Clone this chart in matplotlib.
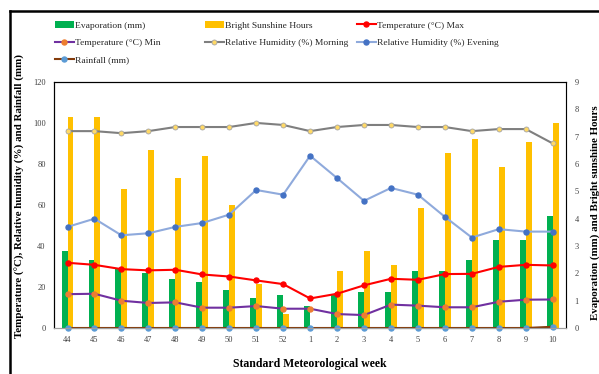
import numpy as np
import matplotlib.pyplot as plt
from matplotlib.lines import Line2D

plt.rcParams["font.family"] = ["Liberation Serif", "DejaVu Serif"]

weeks = ["44", "45", "46", "47", "48", "49", "50", "51", "52",
         "1", "2", "3", "4", "5", "6", "7", "8", "9", "10"]

# right axis (mm / hours)
evaporation = [2.8, 2.5, 2.15, 2.0, 1.8, 1.7, 1.4, 1.1, 1.2,
               0.8, 1.2, 1.3, 1.3, 2.1, 2.1, 2.5, 3.2, 3.2, 4.1]
sunshine = [7.7, 7.7, 5.1, 6.5, 5.5, 6.3, 4.5, 1.6, 0.5,
            0.0, 2.1, 2.8, 2.3, 4.4, 6.4, 6.9, 5.9, 6.8, 7.5]

# left axis (degC / % / mm)
temp_max = [31.8, 30.8, 28.7, 28.1, 28.4, 26.1, 25.1, 23.2, 21.4,
            14.4, 16.7, 20.8, 24.0, 23.5, 26.3, 26.4, 29.8, 30.8, 30.5]
temp_min = [16.5, 16.7, 13.3, 12.2, 12.5, 9.9, 9.9, 10.7, 9.4,
            9.4, 6.8, 6.3, 11.4, 10.9, 10.1, 10.1, 12.8, 13.8, 13.9]
rh_morning = [96, 96, 95, 96, 98, 98, 98, 100, 99,
              96, 98, 99, 99, 98, 98, 96, 97, 97, 90]
rh_evening = [49.3, 53.3, 45.2, 46.2, 49.3, 51.2, 55.3, 67.3, 65.0,
              84.0, 73.1, 62.0, 68.3, 65.0, 54.2, 44.1, 48.2, 47.0, 47.0]
rainfall = [0, 0, 0, 0, 0, 0, 0, 0, 0,
            0, 0, 0, 0, 0, 0, 0, 0, 0, 0.6]

x = np.arange(len(weeks))

fig = plt.figure(figsize=(5.99, 3.74), dpi=100)
ax = fig.add_axes([0.0902, 0.123, 0.855, 0.658])
ax2 = ax.twinx()

bw = 0.22
ax2.bar(x - bw / 2, evaporation, width=bw, color="#00B050", label="Evaporation (mm)")
ax2.bar(x + bw / 2, sunshine, width=bw, color="#FFC000", label="Bright Sunshine Hours")
ax2.set_ylim(0, 9)
ax2.set_yticks(range(0, 10))

# lines go on top of the bars
ax.set_zorder(ax2.get_zorder() + 1)
ax.patch.set_visible(False)

kw = dict(lw=1.5, ms=3.6)
ax.plot(x, temp_max, color="#FF0000", marker="o", mfc="#FF0000", mec="#FF0000",
        label="Temperature (°C) Max", **kw)
ax.plot(x, temp_min, color="#7030A0", marker="o", mfc="#ED7D31", mec="#ED7D31",
        label="Temperature (°C) Min", **kw)
ax.plot(x, rh_morning, color="#7F7F7F", marker="o", mfc="#FFD966", mec="#A5A5A5",
        mew=0.6, label="Relative Humidity (%) Morning", **kw)
ax.plot(x, rh_evening, color="#8FAADC", marker="o", mfc="#4472C4", mec="#4472C4",
        label="Relative Humidity (%) Evening", **kw)
ax.plot(x, rainfall, color="#843C0C", marker="o", mfc="#5B9BD5", mec="#5B9BD5",
        label="Rainfall (mm)", clip_on=False, **kw)

ax.set_ylim(0, 120)
ax.set_yticks(range(0, 121, 20))
ax.set_xlim(-0.5, len(weeks) - 0.5)
ax.set_xticks(x)
ax.set_xticklabels(weeks)

for a in (ax, ax2):
    a.tick_params(length=0, labelsize=6, pad=6, colors="#404040")
    for s in a.spines.values():
        s.set_linewidth(0.8)
        s.set_color("black")
ax.spines["bottom"].set_color("#A0A0A0")
ax2.spines["bottom"].set_color("#A0A0A0")
ax2.spines["right"].set_color("#A0A0A0")

ax.set_xlabel("Standard Meteorological week", fontsize=8.5, fontweight="bold", labelpad=10)
fig.text(0.033, 0.476, "Temperature (°C), Relative humidity (%) and Rainfall (mm)",
         rotation=90, ha="center", va="center", fontsize=7.9, fontweight="bold")
fig.text(0.993, 0.43, "Evaporation (mm) and Bright sunshine Hours",
         rotation=90, ha="center", va="center", fontsize=7.8, fontweight="bold")

# legend: one block per column, placed at fixed column positions
h1, l1 = ax2.get_legend_handles_labels()
h2, l2 = ax.get_legend_handles_labels()
hd = dict(zip(l1 + l2, h1 + h2))
columns = [
    (55, ["Evaporation (mm)", "Temperature (°C) Min", "Rainfall (mm)"]),
    (205, ["Bright Sunshine Hours", "Relative Humidity (%) Morning"]),
    (357, ["Temperature (°C) Max", "Relative Humidity (%) Evening"]),
]
for xpix, names in columns:
    leg = fig.legend([hd[k] for k in names], names, loc="upper left",
                     bbox_to_anchor=(xpix / 599, 1 - 21 / 374), fontsize=6.8,
                     frameon=False, handlelength=2.0, handletextpad=0.1,
                     labelspacing=0.92, borderaxespad=0, borderpad=0)
    for t in leg.get_texts():
        t.set_color("#262626")

# outer frame
fig.add_artist(Line2D([10 / 599, 1], [1 - 11 / 374] * 2, transform=fig.transFigure,
                      color="black", lw=1.8))
fig.add_artist(Line2D([10 / 599] * 2, [0, 1 - 11 / 374], transform=fig.transFigure,
                      color="black", lw=1.8))

fig.savefig("out.png", dpi=100)
